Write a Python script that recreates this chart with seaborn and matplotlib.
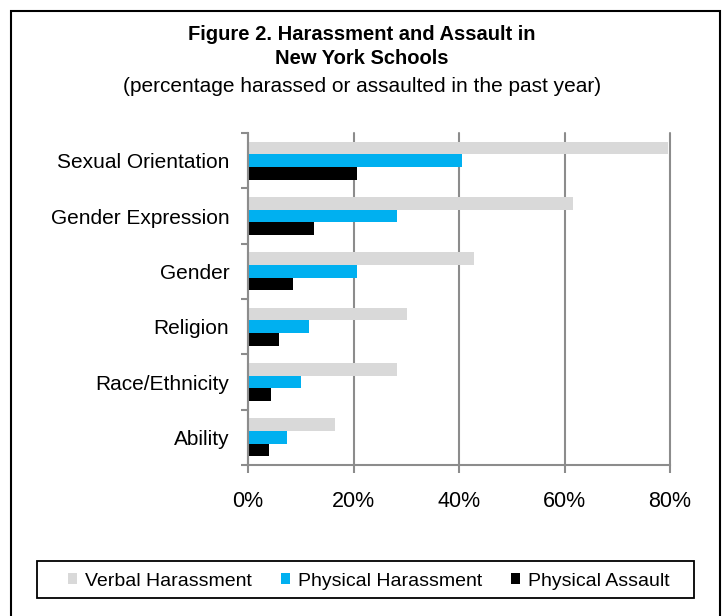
import matplotlib
matplotlib.use("Agg")
import matplotlib.pyplot as plt
import seaborn as sns
import pandas as pd
from matplotlib.patches import Rectangle
from matplotlib.ticker import FuncFormatter, MultipleLocator

categories = ["Sexual Orientation", "Gender Expression", "Gender", "Religion",
              "Race/Ethnicity", "Ability"]
verbal = [79.6, 61.7, 42.8, 30.1, 28.2, 16.4]
physical_harassment = [40.5, 28.2, 20.6, 11.5, 10.0, 7.3]
physical_assault = [20.6, 12.6, 8.5, 5.8, 4.3, 3.9]
series = ["Verbal Harassment", "Physical Harassment", "Physical Assault"]
colors = ["#d9d9d9", "#00b0f0", "#000000"]

rows = []
for c, v, p, a in zip(categories, verbal, physical_harassment, physical_assault):
    rows.append((c, series[0], v))
    rows.append((c, series[1], p))
    rows.append((c, series[2], a))
df = pd.DataFrame(rows, columns=["Category", "Series", "Value"])

sns.set_style("white")
plt.rcParams["font.family"] = ["Liberation Sans", "DejaVu Sans"]
plt.rcParams["text.color"] = "black"
plt.rcParams["axes.labelcolor"] = "black"

W, H = 724, 616
fig = plt.figure(figsize=(W / 100, H / 100), dpi=100)
ax = fig.add_axes([248 / W, 1 - 465 / H, 422 / W, 332 / H])

sns.barplot(data=df, y="Category", x="Value", hue="Series", order=categories,
            hue_order=series, palette=colors, width=0.685, orient="h",
            saturation=1, ax=ax, legend=True, edgecolor="none", linewidth=0)

ax.set_xlim(0, 80)
ax.set_ylim(len(categories) - 0.5, -0.5)
ax.xaxis.set_major_locator(MultipleLocator(20))
ax.xaxis.set_major_formatter(FuncFormatter(lambda v, _: f"{v:.0f}%"))
ax.set_xlabel("")
ax.set_ylabel("")
ax.grid(axis="x", color="#8c8c8c", linewidth=1.5)
ax.set_axisbelow(True)
for gl in ax.get_xgridlines():
    gl.set_clip_on(False)
for s in ["top", "right"]:
    ax.spines[s].set_visible(False)
for s in ["left", "bottom"]:
    ax.spines[s].set_color("#8c8c8c")
    ax.spines[s].set_linewidth(1.5)

ax.set_yticks(range(len(categories)))
ax.set_yticklabels(categories, fontsize=15)
ax.set_yticks([i - 0.5 for i in range(len(categories) + 1)], minor=True)
ax.tick_params(axis="y", which="major", left=True, length=0, pad=13.5,
               labelcolor="black")
ax.tick_params(axis="y", which="minor", left=True, length=5, width=1.5,
               color="#8c8c8c", direction="out")
ax.tick_params(axis="x", which="major", bottom=True, length=6, width=1.5,
               color="#8c8c8c", direction="out", labelsize=15.5, pad=13,
               labelcolor="black")

# legend (frame drawn separately)
handles, labels = ax.get_legend_handles_labels()
ax.get_legend().remove()
leg = fig.legend(handles, labels, loc="center left",
                 bbox_to_anchor=(68 / W, 1 - 581 / H), ncol=3, frameon=False,
                 fontsize=14, handlelength=0.47, handleheight=0.47,
                 handletextpad=0.4, columnspacing=1.5, borderpad=0,
                 borderaxespad=0)
for t in leg.get_texts():
    t.set_color("black")
fig.patches.append(Rectangle((37 / W, 1 - 598 / H), 657 / W, 37 / H,
                             transform=fig.transFigure, fill=False,
                             edgecolor="black", linewidth=1.3))

# titles
fig.text(0.5, 1 - 35 / H, "Figure 2. Harassment and Assault in", ha="center",
         va="center", fontsize=14.5, fontweight="bold")
fig.text(0.5, 1 - 58 / H, "New York Schools", ha="center", va="center",
         fontsize=14.5, fontweight="bold")
fig.text(0.5, 1 - 86 / H, "(percentage harassed or assaulted in the past year)",
         ha="center", va="center", fontsize=15)

# outer border
fig.patches.append(Rectangle((11 / W, -0.02), 709 / W, 1 - 11 / H + 0.02,
                             transform=fig.transFigure, fill=False,
                             edgecolor="black", linewidth=1.5))

fig.savefig("out.png", dpi=100)
